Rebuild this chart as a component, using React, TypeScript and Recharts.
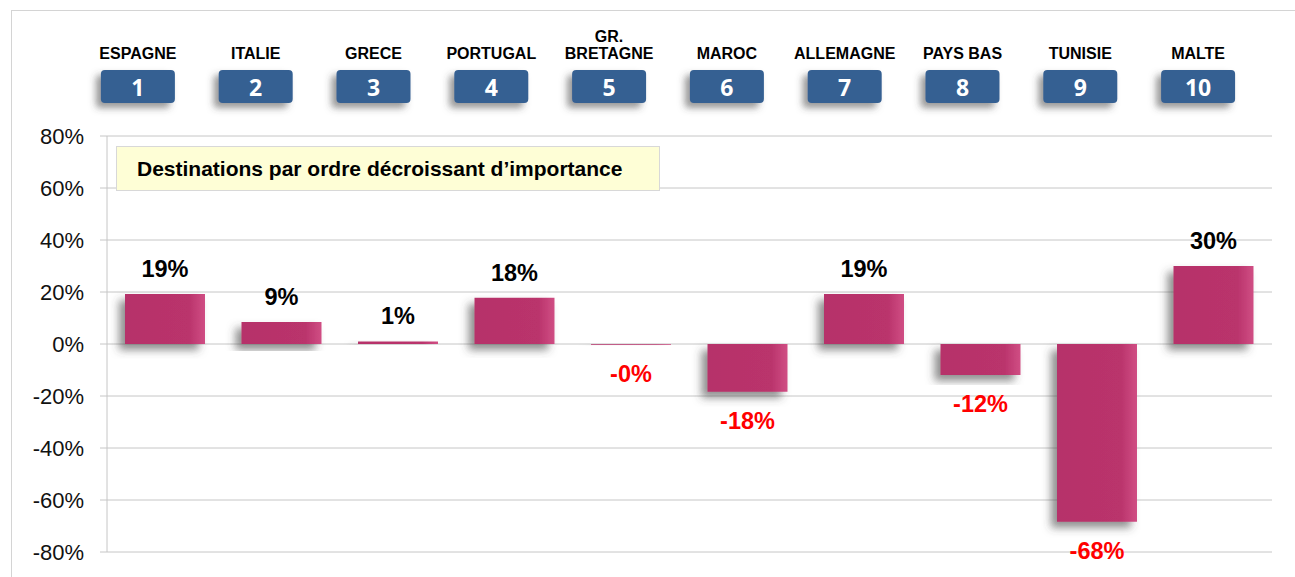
import React from "react";
import { BarChart, Bar, XAxis, YAxis, CartesianGrid, LabelList } from "recharts";

const COUNTRIES = ["ESPAGNE", "ITALIE", "GRECE", "PORTUGAL", "GR. BRETAGNE", "MAROC", "ALLEMAGNE", "PAYS BAS", "TUNISIE", "MALTE"];
const RANKS = [1, 2, 3, 4, 5, 6, 7, 8, 9, 10];
const VARIATION = [19.2, 8.5, 1, 17.8, -0.3, -18.4, 19.2, -11.9, -68.4, 30];
const Y_TICKS = [-80, -60, -40, -20, 0, 20, 40, 60, 80];
const NOTE = "Destinations par ordre décroissant d\u2019importance";

const data = COUNTRIES.map((name, i) => ({ name, rank: RANKS[i], value: VARIATION[i] }));

const FONT = '"Liberation Sans", Arial, sans-serif';
const BAR_ID = "barFill";

function fmtPct(v: number) {
  const r = Math.abs(Math.round(v));
  return (v < 0 ? "-" : "") + r + "%";
}

function HeaderTick({ x, payload, index }: any) {
  const name: string = payload.value;
  const lines = name === "GR. BRETAGNE" ? ["GR.", "BRETAGNE"] : [name];
  return (
    <g>
      {lines.map((l, k) => (
        <text
          key={k}
          x={x}
          y={59 - (lines.length - 1 - k) * 17}
          textAnchor="middle"
          fontFamily={FONT}
          fontWeight="bold"
          fontSize={16}
          fill="#000"
        >
          {l}
        </text>
      ))}
      <rect x={x - 37} y={70} width={74} height={33} rx={4} fill="#366092" filter="url(#badgeShadow)" />
      <text
        x={x}
        y={96}
        textAnchor="middle"
        fontFamily='"Open Sans", sans-serif'
        fontWeight="bold"
        fontSize={23}
        fill="#fff"
      >
        {RANKS[index]}
      </text>
    </g>
  );
}

function ValueLabel({ x, y, width, height, value }: any) {
  const top = Math.min(y, y + height);
  const bottom = Math.max(y, y + height);
  const neg = value < 0;
  return (
    <text
      x={x + width / 2}
      y={neg ? bottom + 37 : top - 17}
      textAnchor="middle"
      fontFamily={FONT}
      fontWeight="bold"
      fontSize={23.5}
      fill={neg ? "#FF0000" : "#000"}
    >
      {fmtPct(value)}
    </text>
  );
}

export default function App() {
  return (
    <div style={{ position: "absolute", left: 0, top: 0, width: 1295, height: 577, background: "#fff", overflow: "hidden" }}>
      <div
        style={{
          position: "absolute",
          left: 11,
          top: 10,
          width: 1300,
          height: 600,
          borderLeft: "1px solid #d4d4d4",
          borderTop: "1px solid #d4d4d4",
        }}
      />
      <BarChart
        width={1295}
        height={577}
        data={data}
        margin={{ top: 0, right: 23, bottom: 25, left: 0 }}
        style={{ position: "absolute", left: 0, top: 0 }}
      >
        <defs>
          <linearGradient id={BAR_ID} x1="0" y1="0" x2="1" y2="0">
            <stop offset="0" stopColor="#B6316A" />
            <stop offset="0.8" stopColor="#BA346C" />
            <stop offset="1" stopColor="#D04E84" />
          </linearGradient>
          <filter id="barShadow" x="-30%" y="-30%" width="160%" height="160%">
            <feDropShadow dx={-6} dy={6} stdDeviation={4} floodColor="#444" floodOpacity={0.6} />
          </filter>
          <filter id="badgeShadow" x="-30%" y="-30%" width="160%" height="180%">
            <feDropShadow dx={-5} dy={5} stdDeviation={3.5} floodColor="#444" floodOpacity={0.55} />
          </filter>
        </defs>
        <CartesianGrid vertical={false} stroke="#c6c6c6" yAxisId="y" xAxisId="main" />
        <XAxis xAxisId="main" dataKey="name" type="category" hide />
        <XAxis
          xAxisId="top"
          dataKey="name"
          type="category"
          orientation="top"
          height={136}
          axisLine={false}
          tickLine={false}
          padding={{ left: -28, right: 15 }}
          interval={0}
          tick={<HeaderTick />}
        />
        <YAxis
          yAxisId="y"
          width={107}
          domain={[-80, 80]}
          ticks={Y_TICKS}
          interval={0}
          tickFormatter={(v: number) => v + "%"}
          axisLine={{ stroke: "#c6c6c6" }}
          tickLine={{ stroke: "#c6c6c6" }}
          tickSize={7}
          tickMargin={16}
          tick={{ fontFamily: FONT, fontSize: 22, fill: "#111" }}
        />
        <Bar
          dataKey="value"
          xAxisId="main"
          yAxisId="y"
          barSize={80}
          fill={`url(#${BAR_ID})`}
          filter="url(#barShadow)"
          isAnimationActive={false}
        >
          <LabelList dataKey="value" content={<ValueLabel />} />
        </Bar>
      </BarChart>
      <div
        style={{
          position: "absolute",
          left: 116,
          top: 146,
          width: 542,
          height: 43,
          background: "#FEFED6",
          border: "1px solid #d8d8d8",
          boxSizing: "content-box",
          display: "flex",
          alignItems: "center",
          paddingLeft: 0,
        }}
      >
        <span style={{ marginLeft: 20, fontFamily: FONT, fontWeight: "bold", fontSize: 21, color: "#000" }}>{NOTE}</span>
      </div>
    </div>
  );
}
